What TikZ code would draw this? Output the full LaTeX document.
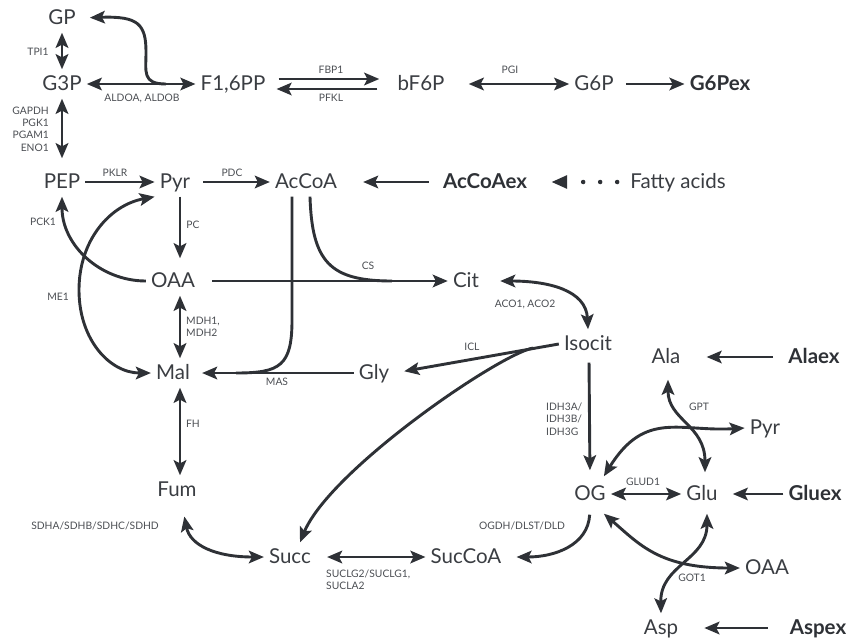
\documentclass[tikz,border=0pt]{standalone}
\usepackage{fontspec}
\setmainfont{Lato}
\usetikzlibrary{arrows.meta}
\definecolor{ink}{HTML}{2E3136}
\definecolor{txt}{HTML}{3A3D42}
\definecolor{enzc}{HTML}{4B4E53}
\begin{document}
\begin{tikzpicture}[x=1pt,y=-1pt,
    met/.style={font=\fontsize{20.5}{22}\selectfont,text=txt,text height=16pt,text depth=3pt,inner sep=5pt},
    ext/.style={met,font=\fontsize{20.5}{22}\selectfont\bfseries,text=ink},
    enz/.style={font=\fontsize{10.3}{12.3}\selectfont,text=enzc,inner sep=0pt},
    rx/.style={draw=ink,line width=2.9pt},
    >={Stealth[length=15pt,width=12.5pt,inset=3pt]}]
  \useasboundingbox (0,0) rectangle (847,643);
  % metabolites
  \node[met] (GP) at (62,18) {GP};
  \node[met] (G3P) at (62,84) {G3P};
  \node[met] (F16PP) at (233,84) {F1,6PP};
  \node[met] (bF6P) at (421,84) {bF6P};
  \node[met] (G6P) at (594,84) {G6P};
  \node[ext] (G6Pex) at (720,84) {G6Pex};
  \node[met] (PEP) at (62,182) {PEP};
  \node[met] (Pyr) at (175,182) {Pyr};
  \node[met] (AcCoA) at (306,182) {AcCoA};
  \node[ext] (AcCoAex) at (485,182) {AcCoAex};
  \node[met] (fatty) at (678,182) {Fatty acids};
  \node[met] (OAA) at (173,281) {OAA};
  \node[met] (Cit) at (466,281) {Cit};
  \node[met] (Isocit) at (588,344) {Isocit};
  \node[met] (Ala) at (666,357) {Ala};
  \node[ext] (Alaex) at (814,357) {Alaex};
  \node[met] (Mal) at (173,373) {Mal};
  \node[met] (Gly) at (374,373) {Gly};
  \node[met] (PyrB) at (765,428) {Pyr};
  \node[met] (Fum) at (177,490) {Fum};
  \node[met] (OG) at (590,494) {OG};
  \node[met] (Glu) at (702,494) {Glu};
  \node[ext] (Gluex) at (815,494) {Gluex};
  \node[met] (Succ) at (290,557) {Succ};
  \node[met] (SucCoA) at (466,557) {SucCoA};
  \node[met] (OAAB) at (767,568) {OAA};
  \node[met] (Asp) at (661,628) {Asp};
  \node[ext] (Aspex) at (818,628) {Aspex};
  % enzymes
  \node[enz] (tpi) at (38,52) {TPI1};
  \node[enz] (aldo) at (142,98) {ALDOA, ALDOB};
  \node[enz] (fbp) at (331,70) {FBP1};
  \node[enz] (pfk) at (331,98) {PFKL};
  \node[enz] (pgi) at (510,70) {PGI};
  \node[enz,align=right,anchor=east] (gapdh) at (49,129) {GAPDH\\PGK1\\PGAM1\\ENO1};
  \node[enz] (pklr) at (115,173) {PKLR};
  \node[enz] (pdc) at (232,173) {PDC};
  \node[enz] (pc) at (193,225) {PC};
  \node[enz] (pck) at (43,222) {PCK1};
  \node[enz] (me) at (58,297) {ME1};
  \node[enz,align=left,anchor=west] (mdh) at (186,327) {MDH1,\\MDH2};
  \node[enz] (cs) at (368,266) {CS};
  \node[enz] (aco) at (525,304) {ACO1, ACO2};
  \node[enz] (icl) at (472,347) {ICL};
  \node[enz] (mas) at (277,382) {MAS};
  \node[enz] (fh) at (193,424) {FH};
  \node[enz,align=left,anchor=west] (idh) at (546,419) {IDH3A/\\IDH3B/\\IDH3G};
  \node[enz] (gpt) at (699,407) {GPT};
  \node[enz] (glud) at (643,482) {GLUD1};
  \node[enz] (sdh) at (95,526) {SDHA/SDHB/SDHC/SDHD};
  \node[enz] (ogdh) at (522,526) {OGDH/DLST/DLD};
  \node[enz,align=left,anchor=west] (sucl) at (326,580) {SUCLG2/SUCLG1,\\SUCLA2};
  \node[enz] (got) at (692,578) {GOT1};
  % junctions
  \coordinate (aldoj) at (166,84);
  \coordinate (csj) at (392,281);
  \coordinate (masj) at (236,373);
  \coordinate (iclj) at (533,348);
  % glycolysis
  \draw[rx,<->] (GP) -- (G3P);
  \draw[rx,<->] (G3P) -- (F16PP);
  \draw[rx,->,shorten >=9pt] (aldoj) .. controls (142,84) and (146,72) .. (146,52) .. controls (146,24) and (138,16) .. (GP.east);
  \draw[rx,<->,shorten >=9pt] (G3P) -- (PEP);
  \draw[rx,->,shorten <=8pt,shorten >=13pt] ([yshift=5pt]F16PP.east) -- ([yshift=5pt]bF6P.west);
  \draw[rx,->,shorten <=15pt,shorten >=6pt] ([yshift=-5pt]bF6P.west) -- ([yshift=-5pt]F16PP.east);
  \draw[rx,<->,shorten <=19pt] (bF6P) -- (G6P);
  \draw[rx,->,shorten <=7pt] (G6P) -- (G6Pex);
  \draw[rx,->] (PEP) -- (Pyr);
  \draw[rx,->,shorten <=8pt] (Pyr) -- (AcCoA);
  \draw[rx,->,shorten >=21pt] ([xshift=-9pt]AcCoAex.west) -- (AcCoA.east);
  \draw[rx,-{Stealth[length=16pt,width=12.5pt,inset=0pt]},dash pattern=on 0pt off 17pt,line cap=round,line width=4.5pt,shorten <=8pt,shorten >=19pt] (fatty) -- (AcCoAex);
  % TCA and anaplerosis
  \draw[rx,->,shorten >=8pt] ([xshift=5pt]Pyr.south) -- ([xshift=7pt]OAA.north);
  \draw[rx,->] (OAA.west) .. controls (100,281) and (62,245) .. (PEP.south);
  \draw[rx,<->] (Mal.west) .. controls (110,373) and (79,340) .. (79,290) .. controls (79,240) and (110,205) .. (Pyr.south west);
  \draw[rx,->,shorten <=12pt] (OAA) -- (Cit);
  \draw[rx] ([xshift=4pt]AcCoA.south) .. controls (312,262) and (330,281) .. (csj);
  \draw[rx] ([xshift=-14pt]AcCoA.south) -- (292,320) .. controls (292,366) and (280,373) .. (masj);
  \draw[rx,->,shorten >=7pt] (Gly) -- (Mal);
  \draw[rx,<->] ([xshift=7pt]OAA.south) -- ([xshift=7pt]Mal.north);
  \draw[rx,<->] ([xshift=7pt]Mal.south) -- ([xshift=3pt]Fum.north);
  \draw[rx,<->,shorten <=16pt] (Cit.east) .. controls (548,281) and (586,290) .. (Isocit.north);
  \draw[rx,->,shorten >=10pt] (Isocit.west) -- (Gly.east);
  \draw[rx,->] (iclj) .. controls (498,355) and (330,470) .. ([xshift=10pt]Succ.north);
  \draw[rx,->,shorten <=4pt,shorten >=9pt] ([xshift=1pt]Isocit.south) -- (OG.north);
  \draw[rx,->,shorten <=6pt,shorten >=10pt] (OG.south) .. controls (588,545) and (555,557) .. (SucCoA.east);
  \draw[rx,<->,shorten <=11pt] (Succ) -- (SucCoA);
  \draw[rx,<->,shorten <=12pt] ([xshift=5pt]Fum.south) .. controls (190,545) and (215,557) .. (Succ.west);
  % amino acids
  \draw[rx,<->] (OG) -- (Glu);
  \draw[rx,->,shorten >=10pt] (Gluex) -- (Glu);
  \draw[rx,->,shorten >=21pt] ([xshift=-10pt]Alaex.west) -- (Ala.east);
  \draw[rx,->,shorten >=21pt] ([xshift=-17pt]Aspex.west) -- (Asp.east);
  \draw[rx,<->,shorten <=8pt] ([xshift=2pt]Ala.south) .. controls (668,420) and (705,425) .. ([xshift=3pt,yshift=7pt]Glu.north);
  \draw[rx,<->] ([xshift=-7pt,yshift=3pt]OG.north east) .. controls (645,410) and (680,432) .. (PyrB.west);
  \draw[rx,<->] ([xshift=-7pt,yshift=-5pt]OG.south east) .. controls (640,545) and (660,568) .. (OAAB.west);
  \draw[rx,<->] ([xshift=5pt,yshift=-5pt]Glu.south) .. controls (707,560) and (660,565) .. (Asp.north);
\end{tikzpicture}
\end{document}
